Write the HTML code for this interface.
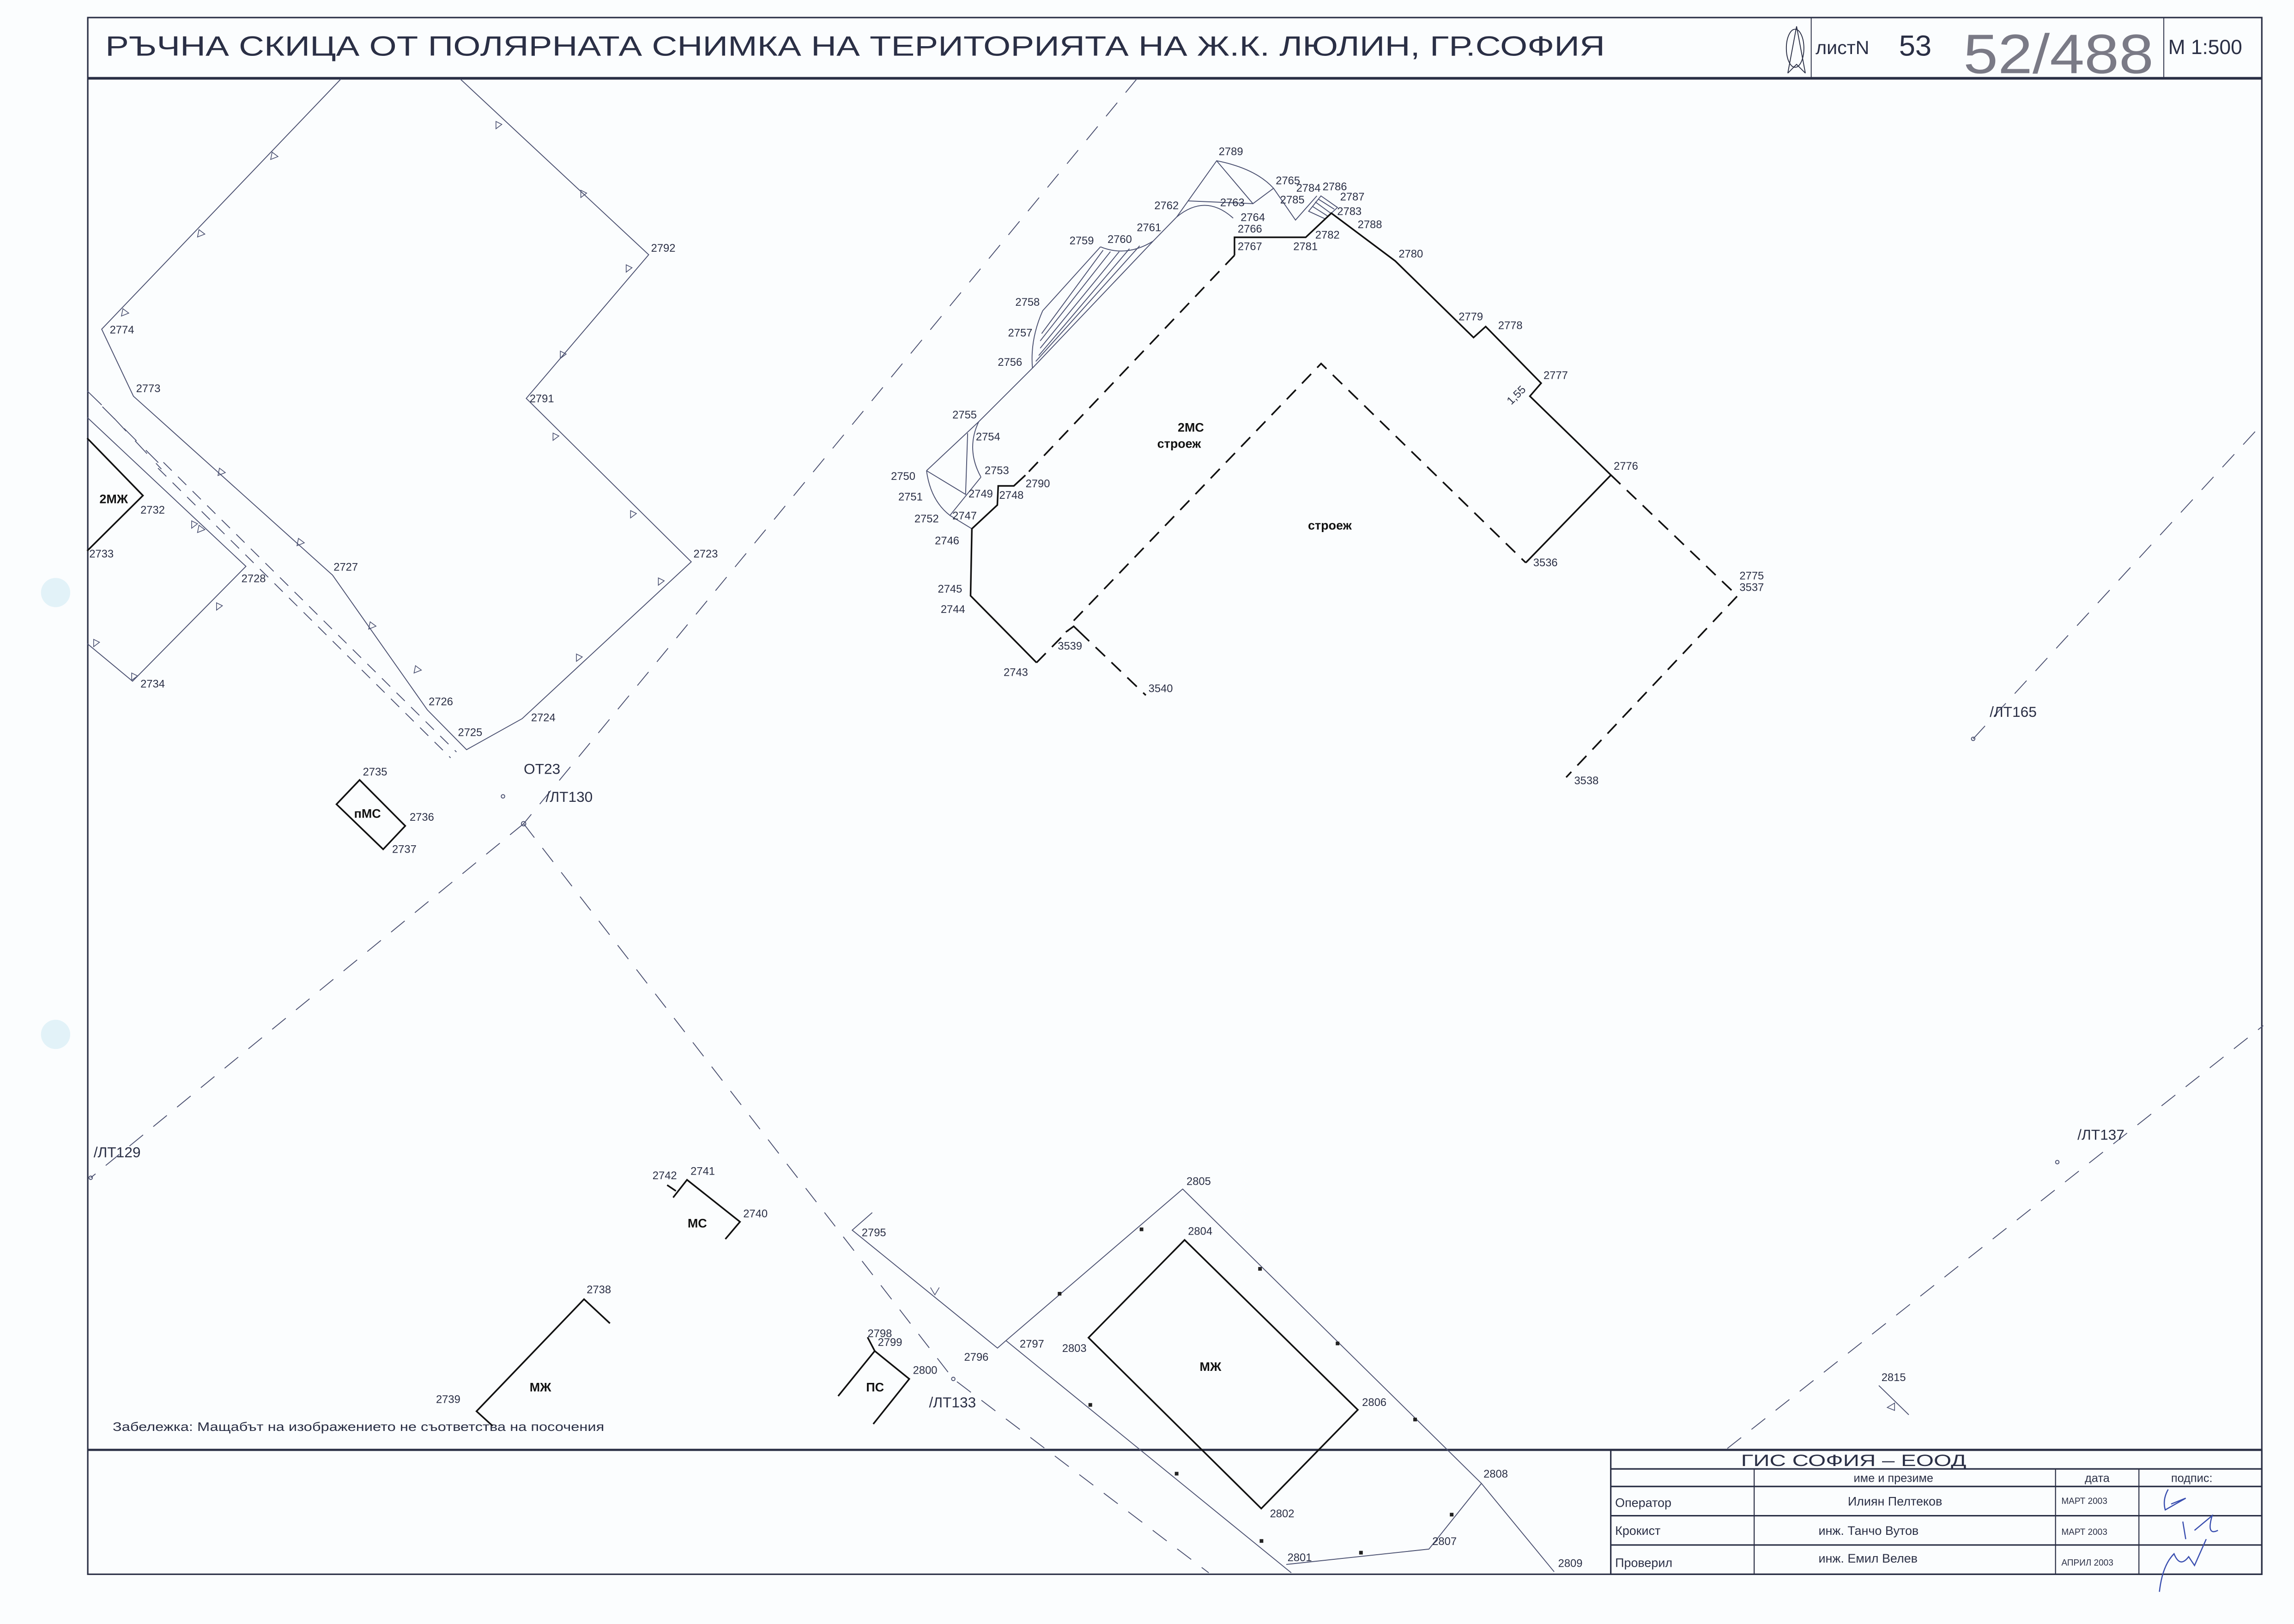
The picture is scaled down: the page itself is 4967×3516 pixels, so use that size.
<!DOCTYPE html>
<html><head><meta charset="utf-8">
<style>
html,body{margin:0;padding:0;background:#fbfdfe;}
svg{display:block;}
text{font-family:"Liberation Sans","DejaVu Sans",sans-serif;}
</style></head>
<body>
<svg width="4967" height="3516" viewBox="0 0 1568 1110" preserveAspectRatio="none" xmlns="http://www.w3.org/2000/svg">
<rect x="0" y="0" width="1568" height="1110" fill="#fbfdfe"/>
<!-- frame -->
<g fill="none" stroke="#2a2f45">
<rect x="60" y="12" width="1486" height="1064" stroke-width="1"/>
<line x1="60" y1="53.5" x2="1546" y2="53.5" stroke-width="1.8"/>
<line x1="60" y1="991" x2="1546" y2="991" stroke-width="1.5"/>
<line x1="1238" y1="12" x2="1238" y2="53" stroke-width="0.6"/>
<line x1="1479" y1="12" x2="1479" y2="53" stroke-width="0.6"/>
<!-- title block -->
<rect x="1101" y="991" width="445" height="85" stroke-width="1"/>
<line x1="1101" y1="1004" x2="1546" y2="1004" stroke-width="1"/>
<line x1="1101" y1="1016" x2="1546" y2="1016" stroke-width="1"/>
<line x1="1101" y1="1036" x2="1546" y2="1036" stroke-width="1"/>
<line x1="1101" y1="1056" x2="1546" y2="1056" stroke-width="1"/>
<line x1="1199" y1="1004" x2="1199" y2="1076" stroke-width="0.7"/>
<line x1="1405" y1="1004" x2="1405" y2="1076" stroke-width="0.7"/>
<line x1="1462" y1="1004" x2="1462" y2="1076" stroke-width="0.7"/>
</g>
<!-- header text -->
<text x="72" y="38" font-size="19" fill="#2a2f45" textLength="1025" lengthAdjust="spacingAndGlyphs">РЪЧНА СКИЦА ОТ ПОЛЯРНАТА СНИМКА НА ТЕРИТОРИЯТА НА Ж.К. ЛЮЛИН, ГР.СОФИЯ</text>
<g fill="none" stroke="#2a2f45" stroke-width="0.6">
<ellipse cx="1227" cy="33" rx="6" ry="13"/>
<path d="M1222 50 L1228 18 L1234 50 M1222 50 L1228 44 L1234 50"/>
</g>
<text x="1241" y="37" font-size="13" fill="#2a2f45">листN</text>
<text x="1298" y="38" font-size="20" fill="#2a2f45">53</text>
<text x="1342" y="50" font-size="38" fill="#7a7a86" font-family="Liberation Serif,serif" textLength="130" lengthAdjust="spacingAndGlyphs">52/488</text>
<text x="1482" y="37" font-size="14" fill="#2a2f45" font-family="Liberation Serif,serif">M 1:500</text>

<!-- title block text -->
<g fill="#2a2f45">
<text x="1190" y="1002" font-size="11" textLength="154" lengthAdjust="spacingAndGlyphs">ГИС   СОФИЯ  –  ЕООД</text>
<text x="1267" y="1013" font-size="8">име и презиме</text>
<text x="1425" y="1013" font-size="8">дата</text>
<text x="1484" y="1013" font-size="8">подпис:</text>
<text x="1104" y="1030" font-size="8.5">Оператор</text>
<text x="1263" y="1029" font-size="8.5">Илиян Пелтеков</text>
<text x="1409" y="1028" font-size="6">МАРТ 2003</text>
<text x="1104" y="1049" font-size="8.5">Крокист</text>
<text x="1243" y="1049" font-size="8.5">инж. Танчо Вутов</text>
<text x="1409" y="1049" font-size="6">МАРТ 2003</text>
<text x="1104" y="1071" font-size="8.5">Проверил</text>
<text x="1243" y="1068" font-size="8.5">инж. Емил Велев</text>
<text x="1409" y="1070" font-size="6">АПРИЛ 2003</text>
</g>
<g fill="none" stroke="#3a4fb0" stroke-width="0.8">
<path d="M1482 1018 Q1478 1025 1480 1032 L1494 1024 L1484 1028"/>
<path d="M1492 1040 L1494 1052 M1500 1046 L1512 1036 Q1508 1050 1516 1046"/>
<path d="M1476 1088 Q1478 1070 1486 1062 Q1490 1072 1496 1064 L1500 1070 L1508 1052"/>
</g>
<text x="77" y="978" font-size="8.5" fill="#2a2f45" textLength="336" lengthAdjust="spacingAndGlyphs">Забележка: Мащабът на изображението не съответства на посочения</text>

<!-- thin parcel lines -->
<g fill="none" stroke="#4a5070" stroke-width="0.6">
<polyline points="233,54 69.5,225 91.2,270.8 227.3,393.1 292.1,485.2 318.9,512.4 356.9,491.2 472.5,384 359.7,272.3 443.4,174.1 314.6,54"/>
<polyline points="59.6,285.3 168.1,387.1 90.6,465.6 59.6,439.9"/>
<line x1="59.6" y1="267.2" x2="69.5" y2="276.8"/>
<!-- bottom parcel -->
<polyline points="596.2,828.8 582.5,840.8 681.8,921.4 687.6,916.3 808.4,812.7 1012.6,1013.9 1062.3,1074.3"/>
<line x1="687.6" y1="916.3" x2="882.6" y2="1075"/>
<polyline points="1012.6,1013.9 976.7,1058.8 879.2,1069.3"/>
<line x1="1284.2" y1="947" x2="1304.7" y2="967"/>
<!-- building area thin -->
<polyline points="633.3,321.7 669,288.2 705.7,251.6"/>
<line x1="712.7" y1="212.4" x2="752.2" y2="168.7"/>
<path d="M712.7 212.4 Q704 232 705.7 251.6"/>
<path d="M752.2 168.7 Q770 176 788.2 164.8"/>
<polyline points="788.2,164.8 804.3,148.3 831.6,109.9 856.4,139.2 870.5,128.7"/>
<path d="M831.6 109.9 Q858 115 870.5 128.7"/>
<path d="M804.3 148.3 Q824 132 842.9 149.1"/>
<line x1="811.9" y1="137.3" x2="856.4" y2="139.2"/>
<polyline points="870.5,128.7 885.5,150.4 900.1,133.9"/>
<polygon points="894.5,144.4 902.9,133.9 914.2,141.8 905.8,149.6"/>
<path d="M897 141 L908 148 M899 138 L910 146 M901 136 L912 143"/>
<path d="M705.7 251.6 L788.2 164.8 M708 247 L779 168 M710 243 L772 170 M711 238 L765 172 M711 233 L759 172 M712 228 L754 171"/>
<polyline points="633.3,321.7 660,337.9 661.4,296.1"/>
<path d="M633.3 321.7 Q636 342 649.3 352.3 L670.5 326.1"/>
<path d="M669 288.2 Q660 307 670.5 326.1"/>
<line x1="649.3" y1="352.3" x2="664.3" y2="361.4"/>
</g>
<!-- triangle markers -->
<g fill="none" stroke="#4a5070" stroke-width="0.5" font-size="7">
<path d="M186 104 l4 3 l-5 2 z M136 157 l4 3 l-5 2 z M84 211 l4 3 l-5 2 z M136 359 l4 3 l-5 2 z M150 320 l4 3 l-5 2 z M204 368 l4 3 l-5 2 z M253 425 l4 3 l-5 2 z M284 455 l4 3 l-5 2 z M131 356 l4 2 l-4 3 z M64 437 l4 2 l-4 3 z M90 460 l4 2 l-4 3 z M148 412 l4 2 l-4 3 z M339 83 l4 2 l-4 3 z M397 130 l4 2 l-4 3 z M428 181 l4 2 l-4 3 z M383 240 l4 2 l-4 3 z M378 296 l4 2 l-4 3 z M431 349 l4 2 l-4 3 z M450 395 l4 2 l-4 3 z M394 447 l4 2 l-4 3 z M1290 962 l5 -3 l0 5 z M636 880 l3 5 l3 -5"/>
</g>
<!-- dots -->
<g fill="#222">
<rect x="723" y="883" width="2.5" height="2.5"/><rect x="779" y="839" width="2.5" height="2.5"/>
<rect x="860" y="866" width="2.5" height="2.5"/><rect x="913" y="917" width="2.5" height="2.5"/>
<rect x="966" y="969" width="2.5" height="2.5"/><rect x="744" y="959" width="2.5" height="2.5"/>
<rect x="803" y="1006" width="2.5" height="2.5"/><rect x="861" y="1052" width="2.5" height="2.5"/>
<rect x="929" y="1060" width="2.5" height="2.5"/><rect x="991" y="1034" width="2.5" height="2.5"/>
</g>

<!-- thick building outlines -->
<g fill="none" stroke="#111" stroke-width="1.1">
<polyline points="59.6,299.5 97.7,338.7 59.6,376.5"/>
<polygon points="230,549.7 245.8,533.1 277,564.5 261.9,580.5"/>
<polyline points="460.1,818.5 469.6,806.4 505.8,835.1 495.8,846.9"/>
<line x1="456" y1="810" x2="462" y2="814"/>
<polyline points="336.7,974.6 325.7,964.6 399.2,888 416.9,904.5"/>
<polyline points="572.9,954.2 597.9,923.4 621.5,942.5 596.9,973.3"/>
<line x1="593" y1="914" x2="597.9" y2="923.4"/>
<polygon points="809.7,847.5 928.1,963.6 862.1,1031.1 744,914.3"/>
<polyline points="843.8,174.5 843.8,162.2 892.5,162.2 910,145.7 953.7,178.4 1007.2,230.7 1015.5,223.2 1053.4,261.9 1045.7,270.8 1101.1,324.7 1042.9,384.6"/>
<polyline points="700.9,324.8 693,332.1 682.3,332.1 681.7,345.2 664.3,361.4 663.4,407.2 708.5,452.9"/>
<polyline points="728.5,432 733.9,428.1 738,432"/>
</g>
<g fill="none" stroke="#111" stroke-width="1.1" stroke-dasharray="9,6">
<line x1="843.8" y1="174.5" x2="700.9" y2="324.8"/>
<polyline points="733.9,424.2 903,248.5 1042.9,384.6"/>
<polyline points="1101.1,324.7 1187.6,407.3 1070.5,531.3"/>
<line x1="708.5" y1="452.9" x2="730" y2="431"/>
<line x1="738" y1="432" x2="783.2" y2="475.2"/>
</g>
<!-- traverse dashed lines -->
<g fill="none" stroke="#4a5070" stroke-width="0.6" stroke-dasharray="12,9">
<line x1="777" y1="54" x2="357.9" y2="563"/>
<line x1="357.9" y1="563" x2="62" y2="805"/>
<polyline points="357.9,563 651.6,942.5 826.2,1075"/>
<line x1="1348.7" y1="505" x2="1546" y2="290"/>
<line x1="1180.7" y1="990" x2="1547" y2="701"/>
<line x1="78" y1="285.9" x2="110.3" y2="320.6"/>
<line x1="70" y1="278" x2="110" y2="318" />
</g>
<g fill="none" stroke="#4a5070" stroke-width="0.6" stroke-dasharray="8,6">
<line x1="111.7" y1="316" x2="312" y2="514"/>
<line x1="108" y1="320" x2="308" y2="518"/>
</g>
<g fill="none" stroke="#4a5070" stroke-width="0.6">
<circle cx="357.9" cy="563" r="1.5"/><circle cx="343.8" cy="544.3" r="1.2"/>
<circle cx="1348.7" cy="505" r="1.2"/><circle cx="1406.2" cy="794.3" r="1.2"/>
<circle cx="651.6" cy="942.5" r="1.2"/><circle cx="62" cy="805" r="1.2"/>
</g>

<!-- labels -->
<g fill="#2a2f45" font-size="7.5">
<text x="75" y="228">2774</text><text x="93" y="268">2773</text><text x="96" y="351">2732</text>
<text x="61" y="381">2733</text><text x="165" y="398">2728</text><text x="228" y="390">2727</text>
<text x="96" y="470">2734</text><text x="293" y="482">2726</text><text x="313" y="503">2725</text>
<text x="363" y="493">2724</text><text x="474" y="381">2723</text><text x="362" y="275">2791</text>
<text x="445" y="172">2792</text>
<text x="248" y="530">2735</text><text x="280" y="561">2736</text><text x="268" y="583">2737</text>
<text x="446" y="806">2742</text><text x="472" y="803">2741</text><text x="508" y="832">2740</text>
<text x="401" y="884">2738</text><text x="298" y="959">2739</text>
<text x="593" y="914">2798</text><text x="600" y="920">2799</text><text x="624" y="939">2800</text>
<text x="589" y="845">2795</text><text x="659" y="930">2796</text><text x="697" y="921">2797</text>
<text x="726" y="924">2803</text><text x="811" y="810">2805</text><text x="812" y="844">2804</text>
<text x="931" y="961">2806</text><text x="868" y="1037">2802</text><text x="1014" y="1010">2808</text>
<text x="979" y="1056">2807</text><text x="880" y="1067">2801</text><text x="1065" y="1071">2809</text>
<text x="1286" y="944">2815</text>
<text x="833" y="106">2789</text><text x="789" y="143">2762</text><text x="834" y="141">2763</text>
<text x="848" y="151">2764</text><text x="846" y="159">2766</text><text x="846" y="171">2767</text>
<text x="872" y="126">2765</text><text x="886" y="131">2784</text><text x="904" y="130">2786</text>
<text x="875" y="139">2785</text><text x="916" y="137">2787</text><text x="914" y="147">2783</text>
<text x="928" y="156">2788</text><text x="899" y="163">2782</text><text x="884" y="171">2781</text>
<text x="956" y="176">2780</text><text x="997" y="219">2779</text><text x="1024" y="225">2778</text>
<text x="1055" y="259">2777</text><text x="1103" y="321">2776</text><text x="1048" y="387">3536</text>
<text x="1189" y="396">2775</text><text x="1189" y="404">3537</text><text x="1076" y="536">3538</text>
<text x="777" y="158">2761</text><text x="731" y="167">2759</text><text x="757" y="166">2760</text>
<text x="694" y="209">2758</text><text x="689" y="230">2757</text><text x="682" y="250">2756</text>
<text x="651" y="286">2755</text><text x="667" y="301">2754</text><text x="673" y="324">2753</text>
<text x="609" y="328">2750</text><text x="614" y="342">2751</text><text x="625" y="357">2752</text>
<text x="662" y="340">2749</text><text x="683" y="341">2748</text><text x="701" y="333">2790</text>
<text x="651" y="355">2747</text><text x="639" y="372">2746</text><text x="641" y="405">2745</text>
<text x="643" y="419">2744</text><text x="686" y="462">2743</text><text x="723" y="444">3539</text>
<text x="785" y="473">3540</text>
<text x="1033" y="277" transform="rotate(-45 1033 277)">1,55</text>
</g>
<g fill="#2a2f45" font-size="10">
<text x="358" y="529">ОТ23</text><text x="373" y="548">/ЛТ130</text>
<text x="1360" y="490">/ЛТ165</text><text x="1420" y="779">/ЛТ137</text>
<text x="635" y="962">/ЛТ133</text><text x="64" y="791">/ЛТ129</text>
</g>
<g fill="#111" font-size="8.5" font-weight="bold">
<text x="68" y="344">2МЖ</text><text x="242" y="559">пМС</text><text x="470" y="839">МС</text>
<text x="362" y="951">МЖ</text><text x="592" y="951">ПС</text><text x="820" y="937">МЖ</text>
<text x="805" y="295">2МС</text><text x="791" y="306">строеж</text><text x="894" y="362">строеж</text>
</g>
<circle cx="38" cy="405" r="10" fill="#e2f2f8"/><circle cx="38" cy="707" r="10" fill="#e2f2f8"/>
</svg>
</body></html>
